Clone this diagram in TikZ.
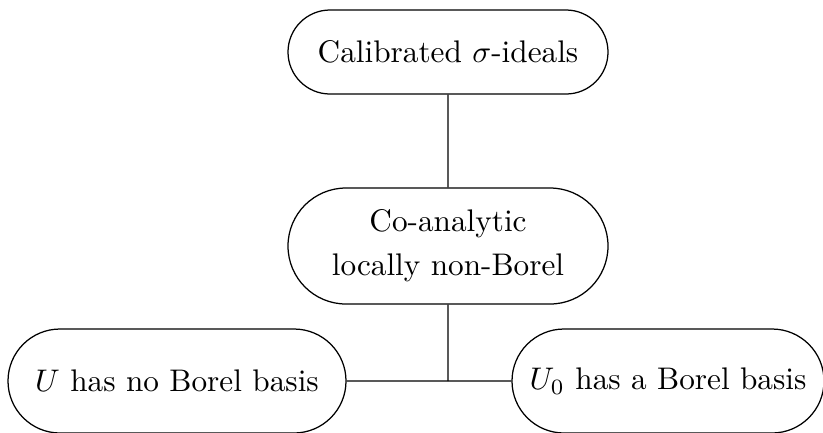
\documentclass[tikz,border=0pt]{standalone}
\usepackage{amsmath}
\usepackage{tikz}
\usetikzlibrary{positioning,
				shapes.misc,
				calc}

\tikzset{pill/.style={draw, rounded rectangle, align=center, inner sep=0pt}}

\begin{document}
\begin{tikzpicture}[x=0.32pt, y=0.32pt]
		\clip (0,0) rectangle (823,-432);
		\useasboundingbox (0,0) rectangle (823,-432);

		\node[pill, minimum width=320*0.32pt, minimum height=84*0.32pt] (calib) at (448,-52) {Calibrated $\sigma$-ideals};
		\node[pill, minimum width=320*0.32pt, minimum height=116*0.32pt] (coanal) at (448,-246) {Co-analytic\\[2pt]locally non-Borel};
		\node[pill, minimum width=338*0.32pt, minimum height=104*0.32pt] (nobasis) at (177,-381) {$U$ has no Borel basis};
		\node[pill, minimum width=312*0.32pt, minimum height=104*0.32pt] (basis) at (668,-381) {$U_0$ has a Borel basis};
		\coordinate (join) at (448,-381);

		\draw (calib) -- (coanal);
		\draw (coanal) -- (join);
		\draw (nobasis) -- (basis);
	\end{tikzpicture}
\end{document}
